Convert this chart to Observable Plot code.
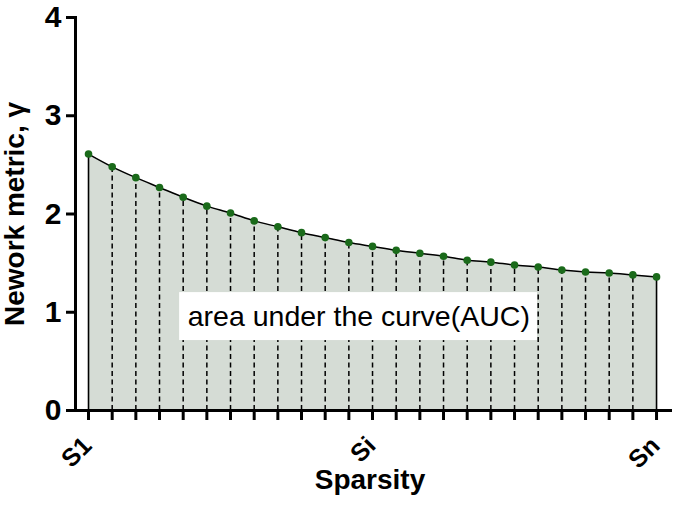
<!DOCTYPE html>
<html>
<head>
<meta charset="utf-8">
<script src="https://cdn.jsdelivr.net/npm/d3@7"></script>
<script src="https://cdn.jsdelivr.net/npm/@observablehq/plot@0.6"></script>
<style>
  html, body { margin: 0; padding: 0; background: #fff; }
</style>
</head>
<body>
<div id="chart"></div>
<script>
// ---- data ----
const values = [2.61, 2.48, 2.37, 2.27, 2.17, 2.08, 2.01, 1.93, 1.87, 1.81, 1.76, 1.71, 1.67,
                1.63, 1.60, 1.57, 1.53, 1.51, 1.48, 1.46, 1.43, 1.41, 1.40, 1.38, 1.36];
const tickIndex = [0, 12, 24];
const tickLabels = ["S1", "Si", "Sn"];
const yTicks = [0, 1, 2, 3, 4];
const xTitle = "Sparsity";
const yTitle = "Nework metric, γ";
const annotation = "area under the curve(AUC)";

const data = values.map((v, i) => ({i, v}));
const n = values.length;
const inner = data.slice(1, n - 1);
const ends = [data[0], data[n - 1]];
const labels = tickIndex.map((i, k) => ({i, label: tickLabels[k]}));

const font = "Liberation Sans, Arial, Helvetica, sans-serif";
const xMin = -0.55, xMax = 24.59;

const chart = Plot.plot({
  width: 675,
  height: 507,
  marginLeft: 75,
  marginRight: 5,
  marginTop: 17,
  marginBottom: 97,
  style: {fontFamily: font, background: "#fff", color: "#000"},
  x: {type: "linear", domain: [xMin, xMax], axis: null},
  y: {domain: [0, 4], axis: null},
  marks: [
    Plot.areaY(data, {x: "i", y: "v", fill: "#d5dcd5", curve: "monotone-x"}),
    Plot.ruleX(inner, {x: "i", y1: 0, y2: "v", stroke: "#000", strokeWidth: 1.5, strokeDasharray: "5,3.5"}),
    Plot.ruleX(ends, {x: "i", y1: 0, y2: "v", stroke: "#000", strokeWidth: 1.6}),
    Plot.rect([annotation], {x1: 3.85, x2: 18.97, y1: 0.712, y2: 1.2, fill: "#fff"}),
    Plot.text([annotation], {x: 11.42, y: 0.956, text: d => d, fontSize: 28.5, fill: "#000", fontFamily: font}),
    Plot.lineY(data, {x: "i", y: "v", stroke: "#000", strokeWidth: 1.5, curve: "monotone-x"}),
    Plot.dot(data, {x: "i", y: "v", r: 3.8, fill: "#1a6a1a", stroke: "none"}),
    Plot.frame({anchor: "left", strokeWidth: 3}),
    Plot.frame({anchor: "bottom", strokeWidth: 3}),
    Plot.axisY({ticks: yTicks, tickSize: 9, tickPadding: 5, strokeWidth: 3, fontSize: 30, fontWeight: "bold", label: null, tickFormat: d => String(d), fontFamily: font}),
    Plot.axisX({ticks: d3.range(n), tickSize: 10, strokeWidth: 3, tickFormat: () => "", label: null}),
    Plot.text(labels, {x: "i", y: 0, text: "label", rotate: -45, textAnchor: "end", dx: -1, dy: 31, fontSize: 25, fontWeight: "bold", fontFamily: font}),
    Plot.text([xTitle], {frameAnchor: "bottom", text: d => d, textAnchor: "middle", dx: -3, dy: 78, fontSize: 28, fontWeight: "bold", fontFamily: font}),
    Plot.text([yTitle], {frameAnchor: "left", text: d => d, textAnchor: "middle", rotate: -90, dx: -60, fontSize: 28, fontWeight: "bold", fontFamily: font})
  ]
});
document.getElementById("chart").appendChild(chart);
</script>
</body>
</html>
